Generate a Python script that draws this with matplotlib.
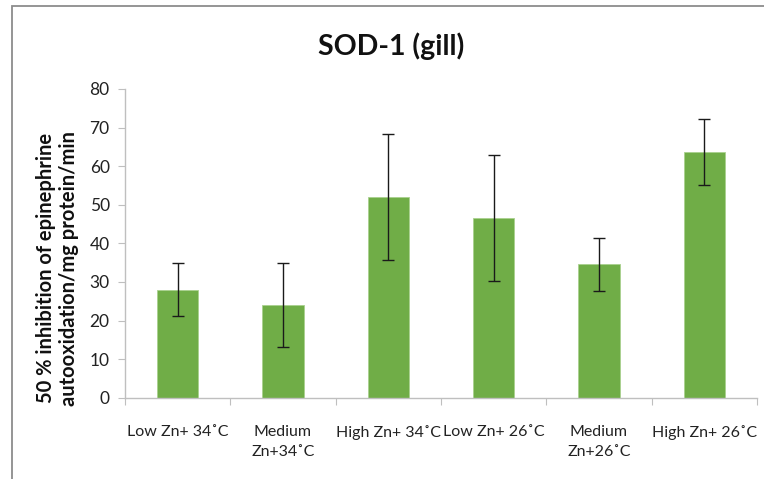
import numpy as np
import matplotlib
matplotlib.use("Agg")
import matplotlib.pyplot as plt
from matplotlib.patches import Rectangle

plt.rcParams['font.family'] = ['Lato', 'DejaVu Sans']

# data
groups = ["Low Zn+ 34˚C", "Medium\nZn+34˚C", "High Zn+ 34˚C",
          "Low Zn+ 26˚C", "Medium\nZn+26˚C", "High Zn+ 26˚C"]
sod_mean = [28.0, 24.0, 52.0, 46.6, 34.6, 63.6]
sod_err = [6.8, 10.8, 16.4, 16.3, 6.9, 8.6]

fig = plt.figure(figsize=(7.64, 4.79), dpi=100)
ax = fig.add_axes([0.1636, 0.1697, 0.8272, 0.6445])

x = np.arange(len(groups))
ax.bar(x, sod_mean, width=0.39, color='#70AD47', edgecolor='#A9D18E', linewidth=0.6,
       yerr=sod_err, error_kw=dict(ecolor='#1a1a1a', elinewidth=1, capsize=4, capthick=1))

ax.set_xlim(-0.5, len(groups) - 0.5)
ax.set_ylim(0, 80)
ax.set_yticks(np.arange(0, 81, 10))
ax.set_xticks(np.arange(-0.5, len(groups), 1))
ax.set_xticklabels([])
ax.set_xticks(x, minor=True)
ax.set_xticklabels(groups, minor=True, fontsize=11.5, color='#222222',
                   linespacing=1.5)
ax.tick_params(axis='x', which='minor', length=0, pad=20)
ax.tick_params(axis='x', which='major', length=5, color='#BFBFBF', direction='out')
ax.tick_params(axis='y', length=5, color='#BFBFBF', labelsize=12.5, labelcolor='#222222', pad=6)

for s in ['top', 'right']:
    ax.spines[s].set_visible(False)
for s in ['left', 'bottom']:
    ax.spines[s].set_color('#BFBFBF')
    ax.spines[s].set_linewidth(1)

fig.text(0.512, 0.903, "SOD-1 (gill)", ha='center', va='center',
         fontsize=20.5, fontweight='bold', color='#111111')
fig.text(0.0755, 0.44, "50 % inhibition of epinephrine\nautooxidation/mg protein/min",
         ha='center', va='center', rotation=90, fontsize=14.5, fontweight='bold',
         color='#111111', linespacing=1.2)

# outer chart border like a pasted chart frame
fig.patches.append(Rectangle((11.5 / 764, -0.1), 1.2, 1.1 - 6 / 479, transform=fig.transFigure,
                             fill=False, edgecolor='#8c8c8c', linewidth=1.3))

fig.savefig("out.png", dpi=100, facecolor='white')
